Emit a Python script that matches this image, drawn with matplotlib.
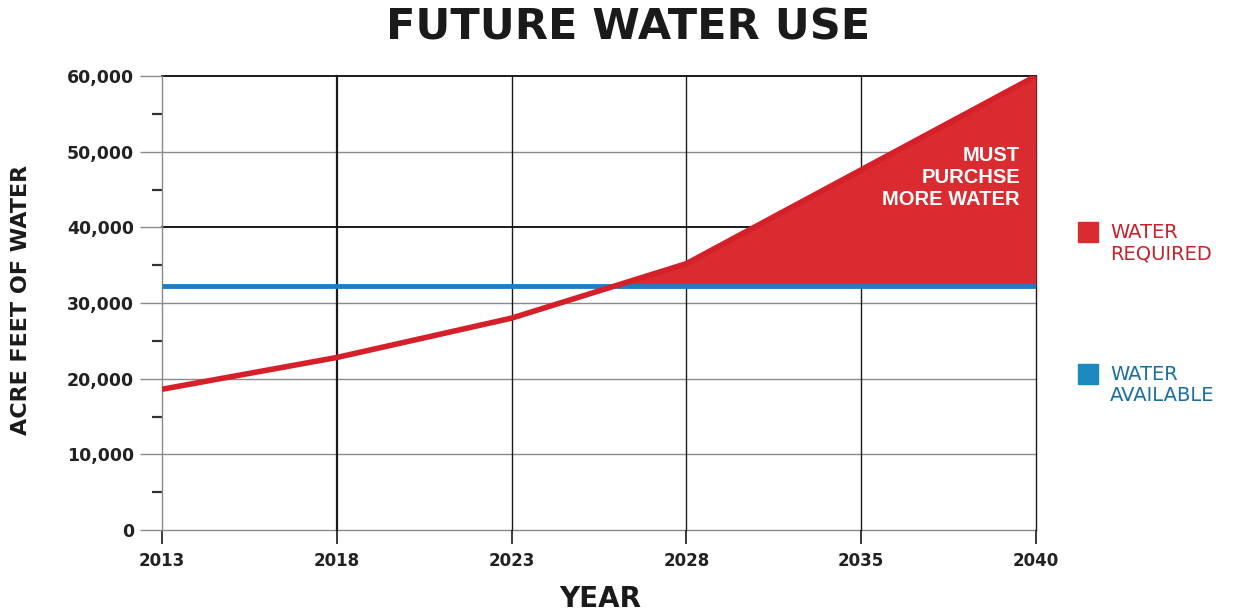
import matplotlib
matplotlib.use("Agg")
import matplotlib.pyplot as plt
import numpy as np

years = ["2013", "2018", "2023", "2028", "2035", "2040"]
water_required = [18600, 22800, 28000, 35200, 47600, 60000]
water_available = [32200, 32200, 32200, 32200, 32200, 32200]
y_ticks = [0, 10000, 20000, 30000, 40000, 50000, 60000]
y_minor = [5000, 15000, 25000, 35000, 45000, 55000]
dark_h = [40000, 60000]

RED = "#d5202a"
FILL = "#d92b30"
BLUE = "#1f7ec2"

fig = plt.figure(figsize=(12.34, 6.14), dpi=100)
ax = fig.add_axes([162/1234, 1-530/614, (1036-162)/1234, (530-76)/614])

x = np.arange(len(years))
req = np.array(water_required, dtype=float)
av = np.array(water_available, dtype=float)

# grid lines
for yv in y_ticks:
    if yv in dark_h:
        ax.axhline(yv, color="#1a1a1a", lw=1.4, zorder=1, clip_on=False)
    else:
        ax.axhline(yv, color="#8a8a8a", lw=1.0, zorder=1, clip_on=False)
for i in x[1:]:
    ax.axvline(i, color="#1a1a1a", lw=1.6 if i == 1 else 1.0, zorder=1, clip_on=False)

ax.fill_between(x, req, av, where=req >= av, interpolate=True, color=FILL, lw=0, zorder=2)
ax.plot(x, av, color=BLUE, lw=3.5, zorder=3, solid_capstyle="butt")
ax.plot(x, req, color=RED, lw=4, zorder=4, solid_capstyle="butt")

ax.set_xlim(0, len(years)-1)
ax.set_ylim(0, 60000)
for s in ["top", "right", "bottom"]:
    ax.spines[s].set_visible(False)
ax.spines["left"].set_color("#8a8a8a")
ax.spines["left"].set_linewidth(1.0)

ax.set_yticks(y_ticks)
ax.set_yticklabels([f"{v:,}" for v in y_ticks])
ax.set_yticks(y_minor, minor=True)
ax.tick_params(axis="y", which="major", length=16, width=1.0, color="#8a8a8a", pad=4,
               labelsize=12.5)
ax.tick_params(axis="y", which="minor", length=7, width=1.6, color="#333333")
ax.set_xticks(x)
ax.set_xticklabels(years)
ax.tick_params(axis="x", which="major", length=10, width=1.2, color="#1a1a1a", pad=6,
               labelsize=12)
for lab in ax.get_yticklabels() + ax.get_xticklabels():
    lab.set_fontfamily("DejaVu Sans")
    lab.set_fontweight("bold")
    lab.set_color("#222222")

ax.set_xlabel("YEAR", fontsize=20, fontweight="bold", color="#1a1a1a",
              family="DejaVu Sans", va="center")
ax.xaxis.set_label_coords((600-162)/874, -(599-530)/454)
ax.set_ylabel("ACRE FEET OF WATER", fontsize=16, fontweight="bold", color="#1a1a1a",
              family="DejaVu Sans", va="center")
ax.yaxis.set_label_coords(-(162-21)/874, (530-300)/454)

fig.text(628/1234, 1-28/614, "FUTURE WATER USE", ha="center", va="center",
         fontsize=31, fontweight="bold", color="#1a1a1a", family="DejaVu Sans")

ax.text(4.908, 50700, "MUST\nPURCHSE\nMORE WATER", ha="right", va="top", color="white",
        fontsize=14.5, fontweight="bold", family="Liberation Sans", linespacing=1.2,
        zorder=5)

# legend
fig.patches.append(plt.Rectangle((1078/1234, 1-242/614), 20/1234, 20/614,
                                 transform=fig.transFigure, color=FILL, zorder=5))
fig.text(1110/1234, 1-243/614, "WATER\nREQUIRED", ha="left", va="center", color="#c8202d",
         fontsize=14, family="DejaVu Sans", linespacing=1.15)
fig.patches.append(plt.Rectangle((1078/1234, 1-384/614), 20/1234, 20/614,
                                 transform=fig.transFigure, color="#1b88c0", zorder=5))
fig.text(1110/1234, 1-385/614, "WATER\nAVAILABLE", ha="left", va="center", color="#1a6f9e",
         fontsize=14, family="DejaVu Sans", linespacing=1.15)

fig.savefig("out.png", dpi=100)
